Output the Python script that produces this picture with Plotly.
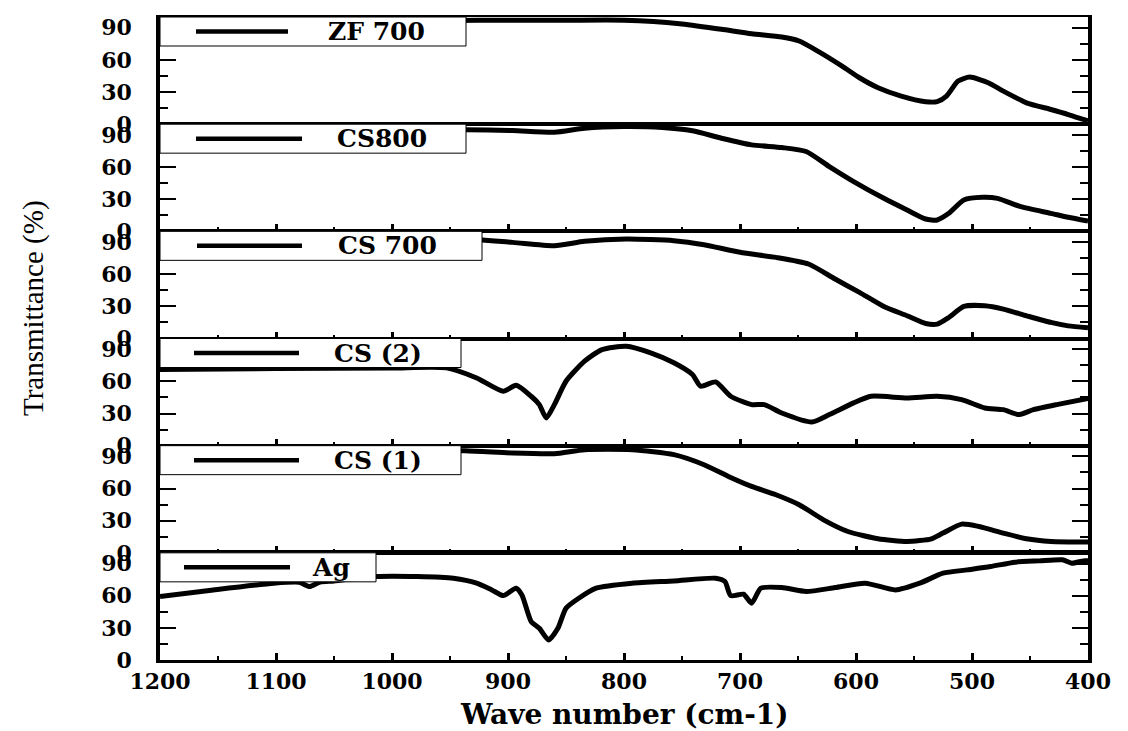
import plotly.graph_objects as go
from plotly.subplots import make_subplots

# ---------------- data ----------------
labels = ["ZF 700", "CS800", "CS 700", "CS (2)", "CS (1)", "Ag"]

wn_zf700 = [1200, 1150, 1100, 1050, 1000, 950, 900, 850, 800, 752, 716, 690, 664, 649, 633,
            612, 597, 581, 561, 540, 530, 522, 512, 502, 486, 473, 453, 432, 417, 404, 400]
t_zf700 = [95, 95.5, 96, 96, 96.5, 96.8, 97, 97, 97, 93.8, 88.5, 84.4, 81.3, 77.6, 68.2,
           54.2, 43.3, 34, 26.2, 21, 21, 26.2, 40.2, 43.9, 38.6, 30.8, 19.9, 13.7, 9, 4.4, 3]

wn_cs800 = [1200, 1100, 1000, 937, 896, 860, 834, 800, 767, 741, 716, 690, 664, 643, 623,
            602, 576, 556, 540, 530, 520, 507, 491, 478, 458, 432, 417, 400]
t_cs800 = [93, 93.5, 94, 94.7, 94, 92.5, 96.3, 97.8, 96.9, 93.8, 86.9, 80.7, 78.2, 74.5, 60.4,
           46.4, 30.8, 19.9, 11.5, 10.6, 16.8, 29.3, 31.8, 30.8, 23, 16.8, 13.1, 9.5]

wn_cs700 = [1200, 1100, 1000, 937, 896, 860, 834, 798, 757, 731, 700, 669, 641, 618, 597,
            576, 556, 540, 530, 520, 507, 489, 473, 453, 432, 417, 400]
t_cs700 = [92, 92.5, 93, 92.8, 89.7, 86.6, 90.7, 92.8, 91.3, 87.5, 80.4, 75.7, 69.5, 55.5, 43,
           29.9, 21.2, 14, 13.4, 19.6, 29.9, 30.5, 27.4, 21.2, 15, 11.8, 10]

wn_cs2 = [1200, 1100, 1000, 953, 927, 904, 893, 880, 873, 867, 860, 850, 834, 819, 798, 777,
          757, 741, 734, 721, 708, 690, 679, 664, 638, 623, 602, 587, 556, 530, 509, 489,
          473, 460, 447, 427, 400]
t_cs2 = [71, 72, 72.5, 72.6, 63.2, 50.8, 56.4, 46.1, 38.3, 25.9, 38.3, 60.1, 78.8, 89.7, 92.8,
         86.6, 77.3, 66.4, 55.5, 59.5, 46.1, 38.3, 38.3, 30.5, 22.1, 29, 39.9, 46.1, 44.5,
         46.1, 43, 35.2, 33.6, 29, 33.6, 38.3, 44]

wn_cs1 = [1200, 1100, 1000, 937, 896, 860, 834, 793, 757, 731, 710, 690, 669, 649, 628, 607,
          581, 556, 535, 525, 509, 494, 473, 453, 432, 400]
t_cs1 = [95, 95.5, 95.5, 95.3, 93.1, 92.5, 96.3, 96.3, 91.6, 82.2, 71.3, 62, 54.2, 44.9, 30.8,
         19.9, 13.1, 10.6, 13.1, 18.4, 26.8, 24.6, 18.4, 13.1, 10.6, 10]

wn_ag = [1200, 1154, 1102, 1080, 1071, 1062, 1050, 1014, 978, 947, 927, 914, 904, 893, 888,
         880, 873, 865, 857, 850, 839, 824, 793, 757, 721, 713, 708, 697, 690, 682, 664, 643,
         618, 592, 566, 545, 525, 504, 484, 463, 442, 422, 414, 404, 400]
t_ag = [59.2, 65.4, 71.7, 72.5, 68.5, 72.8, 73.8, 77.9, 77.9, 76.3, 71.7, 65.4, 60.1, 67, 60.7,
        35.8, 29.6, 18.7, 29.6, 48.3, 57.6, 67, 71.7, 73.8, 76.3, 73.2, 60.1, 61.4, 53, 67,
        67.6, 63.9, 67.6, 71.7, 65.4, 71.7, 81, 84.1, 87.2, 91.3, 92.5, 93.5, 90.3, 92.5, 92.5]

x_ticks = [1200, 1100, 1000, 900, 800, 700, 600, 500, 400]
y_ticks = [0, 30, 60, 90]
y_minor = [15, 45, 75]

series = [(wn_zf700, t_zf700), (wn_cs800, t_cs800), (wn_cs700, t_cs700),
          (wn_cs2, t_cs2), (wn_cs1, t_cs1), (wn_ag, t_ag)]

# ---------------- layout / style ----------------
W, H = 1128, 731
L, R, T, B = 160, 40, 17, 71
PW = W - L - R
PH = H - T - B
PANEL = PH / 6

# legend box geometry (pixels) per panel
box_right_px = [466, 466, 482, 461, 461, 376]
line_px = [(196, 288), (196, 302), (197, 302), (194, 299), (194, 299), (184, 290)]
text_center_px = [376, 382, 387, 378, 378, 331]
BOX_H = 29

SERIF_B = dict(family="DejaVu Serif", color="black", weight="bold")

fig = make_subplots(rows=6, cols=1, shared_xaxes=True, vertical_spacing=0)

for i, (wn, tv) in enumerate(series):
    fig.add_trace(go.Scatter(x=wn, y=tv, mode="lines", showlegend=False,
                             line=dict(color="black", width=5, shape="spline", smoothing=0.6)),
                  row=i + 1, col=1)

fig.update_xaxes(range=[1200, 400], tickvals=x_ticks, ticks="inside", ticklen=7, tickwidth=2.5,
                 tickcolor="black", showline=True, linecolor="black", linewidth=2, mirror=True,
                 showgrid=False, zeroline=False, showticklabels=False,
                 minor=dict(ticks="inside", ticklen=4, tickwidth=2, dtick=50, tick0=0,
                            tickcolor="black", showgrid=False))
fig.update_xaxes(row=1, col=1, ticks="", minor=dict(ticks=""))
fig.update_xaxes(row=6, col=1, showticklabels=True, linewidth=3,
                 tickfont=dict(size=22, **SERIF_B), ticklabelstandoff=0)

fig.update_yaxes(range=[0, 100], tickvals=y_ticks, ticks="inside", ticklen=16, tickwidth=2,
                 tickcolor="black", showline=True, linecolor="black", linewidth=3.5,
                 mirror="ticks", showgrid=False, zeroline=False,
                 tickfont=dict(size=22, **SERIF_B), ticklabelstandoff=20,
                 minor=dict(tickvals=y_minor, ticks="inside", ticklen=8, tickwidth=2,
                            tickcolor="black", showgrid=False))

shapes = []
annotations = []
for i, lab in enumerate(labels):
    xr = "x domain" if i == 0 else f"x{i + 1} domain"
    yr = "y domain" if i == 0 else f"y{i + 1} domain"
    y_top = 1.0
    y_bot = 1.0 - BOX_H / PANEL
    y_mid = 1.0 - (BOX_H / 2) / PANEL
    shapes.append(dict(type="rect", xref=xr, yref=yr, x0=0, x1=(box_right_px[i] - L) / PW,
                       y0=y_bot, y1=y_top, line=dict(color="black", width=1),
                       fillcolor="white", layer="above"))
    shapes.append(dict(type="line", xref=xr, yref=yr, x0=(line_px[i][0] - L) / PW,
                       x1=(line_px[i][1] - L) / PW, y0=y_mid, y1=y_mid,
                       line=dict(color="black", width=4.5), layer="above"))
    annotations.append(dict(xref=xr, yref=yr, x=(text_center_px[i] - L) / PW, y=y_mid,
                            text=lab, showarrow=False, xanchor="center", yanchor="middle",
                            font=dict(size=25, **SERIF_B)))

# axis titles
annotations.append(dict(xref="paper", yref="paper", x=0.5, y=(H - B - 714) / PH,
                        text="Wave number (cm-1)", showarrow=False, xanchor="center",
                        yanchor="middle", font=dict(size=28, **SERIF_B)))
annotations.append(dict(xref="paper", yref="paper", x=(33 - L) / PW, y=(H - B - 308) / PH,
                        text="Transmittance (%)", showarrow=False, textangle=-90,
                        xanchor="center", yanchor="middle",
                        font=dict(family="Liberation Serif", size=29, color="black")))

fig.update_layout(width=W, height=H, margin=dict(l=L, r=R, t=T, b=B, pad=0),
                  paper_bgcolor="white", plot_bgcolor="white",
                  shapes=shapes, annotations=annotations, showlegend=False)

fig.write_html("out.html")
